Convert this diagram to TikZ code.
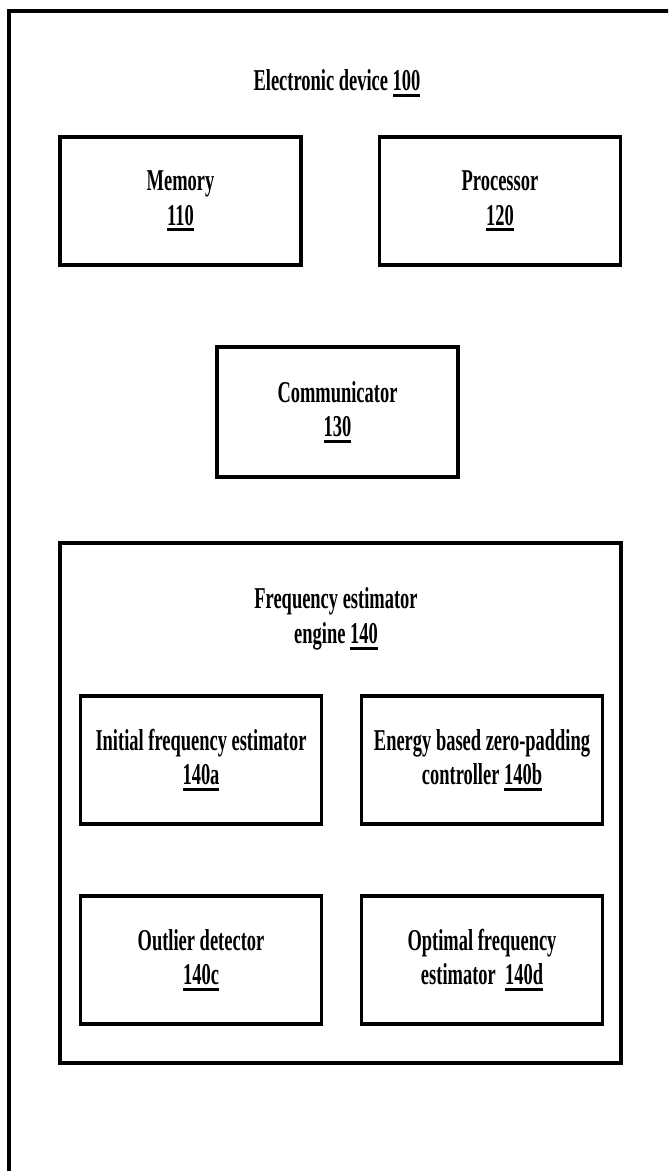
\documentclass[tikz,border=0pt]{standalone}
\usepackage{fontspec}
\newfontfamily\patfont[FakeStretch=0.61]{Liberation Serif}
\usepackage{tikz}
\newcommand{\refnum}[1]{\setbox0\hbox{#1}\rlap{\rule[-4.6pt]{\wd0}{2.2pt}}\box0}

\begin{document}
\begin{tikzpicture}[
          x=0.75pt, y=-0.75pt,
          block/.style={draw, line width=2.4pt, minimum width=180.75pt, minimum height=96pt, align=center, inner sep=0pt},
          every node/.style={font=\patfont\bfseries\fontsize{22.7pt}{26pt}\selectfont},
          ]
          \useasboundingbox (0,0) rectangle (668,1171);
          \clip (0,0) rectangle (668,1171);

          \coordinate (frameBL) at (9,1190);
          \coordinate (frameTR) at (690,11);
          \draw[line width=2.4pt] (frameBL) |- (frameTR);

          \node (device) at (337,83) {Electronic device \refnum{100}};

          \node[block] (memory) at (180.5,201) {Memory\\\refnum{110}};
          \node[block, right of=memory, node distance=239.6pt] (processor) {Processor\\\refnum{120}};
          \node[block, minimum height=97.5pt] (comm) at (337.5,412) {Communicator\\\refnum{130}};

          \node[draw, line width=2.4pt, minimum width=420.75pt, minimum height=390pt] (engine) at (340.5,803) {};
          \node[align=center] (enginetitle) at (336,619) {Frequency estimator\\engine \refnum{140}};

          \node[block] (initial) at (201,760) {Initial frequency estimator\\\refnum{140a}};
          \node[block, right of=initial, node distance=210.75pt] (energy) {Energy based zero-padding\\controller \refnum{140b}};
          \node[block, below of=initial, node distance=150pt] (outlier) {Outlier detector\\\refnum{140c}};
          \node[block, right of=outlier, node distance=210.75pt] (optimal) {Optimal frequency\\estimator~~\refnum{140d}};

        \end{tikzpicture}
\end{document}
